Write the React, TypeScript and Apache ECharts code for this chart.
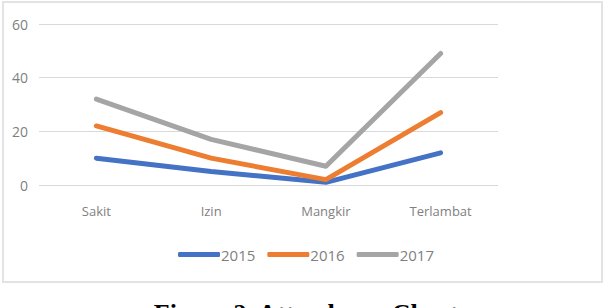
import React, { useEffect, useRef } from "react";
import * as echarts from "echarts";

const categories = ["Sakit", "Izin", "Mangkir", "Terlambat"];
const years = ["2015", "2016", "2017"];
const values2015 = [10, 5, 1, 12];
const values2016 = [22, 10, 2, 27];
const values2017 = [32, 17, 7, 49];
const colors = ["#4472C4", "#ED7D31", "#A5A5A5"];
const yTicks = [0, 20, 40, 60];

export default function App() {
  const ref = useRef<HTMLDivElement>(null);
  useEffect(() => {
    if (!ref.current) return;
    const chart = echarts.init(ref.current, undefined, { renderer: "svg" });
    const seriesData = [values2015, values2016, values2017];
    const labelFont = "'Open Sans', Roboto, sans-serif";
    chart.setOption({
      animation: false,
      backgroundColor: "#ffffff",
      grid: { left: 39, top: 24, width: 459, height: 161, containLabel: false },
      xAxis: {
        type: "category",
        data: categories,
        boundaryGap: true,
        axisLine: { show: false },
        axisTick: { show: false },
        axisLabel: {
          color: "#7f7f7f",
          fontSize: 13,
          fontFamily: labelFont,
          margin: 19,
        },
      },
      yAxis: {
        type: "value",
        min: yTicks[0],
        max: yTicks[yTicks.length - 1],
        interval: 20,
        axisLine: { show: false },
        axisTick: { show: false },
        splitLine: { lineStyle: { color: "#d9d9d9", width: 1 } },
        axisLabel: {
          color: "#7f7f7f",
          fontSize: 14,
          fontFamily: labelFont,
          margin: 11,
        },
      },
      legend: {
        bottom: 41,
        left: "center",
        itemWidth: 42,
        itemHeight: 5,
        itemGap: 12,
        icon: "roundRect",
        textStyle: {
          color: "#7f7f7f",
          fontSize: 15,
          fontFamily: labelFont,
          padding: [0, 0, 0, -4],
        },
        data: years,
      },
      series: years.map((y, i) => ({
        name: y,
        type: "line",
        data: seriesData[i],
        symbol: "none",
        lineStyle: { width: 5, color: colors[i], cap: "round", join: "round" },
        itemStyle: { color: colors[i] },
      })),
      graphic: [
        {
          type: "rect",
          shape: { x: 3, y: 2, width: 599, height: 280 },
          style: { fill: "none", stroke: "#e3e3e3", lineWidth: 2 },
          z: -1,
        },
        {
          type: "text",
          x: 306,
          y: 300,
          style: {
            text: "Figure 2. Attendance Chart",
            font: "bold 26px 'Liberation Serif', 'Times New Roman', serif",
            fill: "#000000",
            align: "center",
            verticalAlign: "top",
          },
        },
      ],
    });
    return () => chart.dispose();
  }, []);
  return (
    <div
      ref={ref}
      style={{ position: "fixed", left: 0, top: 0, width: 612, height: 308 }}
    />
  );
}
